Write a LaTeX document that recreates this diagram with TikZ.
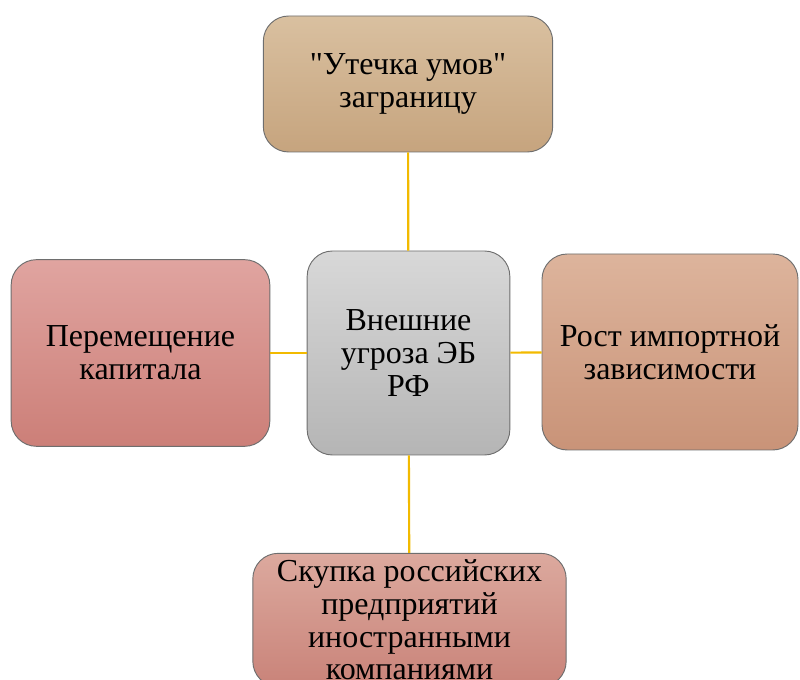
\documentclass[tikz,border=0pt]{standalone}
\usepackage{fontspec}
\setmainfont{Liberation Serif}

\definecolor{tanTop}{RGB}{217,192,160}
\definecolor{tanBot}{RGB}{198,164,126}
\definecolor{roseTop}{RGB}{224,164,160}
\definecolor{roseBot}{RGB}{204,127,120}
\definecolor{greyTop}{RGB}{216,216,216}
\definecolor{greyBot}{RGB}{181,181,181}
\definecolor{peachTop}{RGB}{221,180,156}
\definecolor{peachBot}{RGB}{201,147,120}
\definecolor{pinkTop}{RGB}{220,169,158}
\definecolor{pinkBot}{RGB}{201,131,121}
\definecolor{linkGold}{RGB}{242,186,0}
\definecolor{edgeGrey}{RGB}{110,110,110}

\tikzset{
  threat/.style={draw=edgeGrey, line width=0.7pt, rounded corners=19pt,
    align=center, inner sep=0pt, font=\fontsize{24}{24.5}\selectfont},
  link/.style={draw=linkGold, line width=1.6pt}
}

\begin{document}
\begin{tikzpicture}[x=0.75pt,y=0.75pt,yscale=-1,xscale=1]
\useasboundingbox (0,0) rectangle (800,680);
\clip (0,0) rectangle (800,680);

% Centre box
\node (core) at (408.5,353) [threat, top color=greyTop, bottom color=greyBot,
  minimum width=152pt, minimum height=153pt] {Внешние\\угроза ЭБ\\РФ};
% Top box
\node (brain) at (408,84) [threat, top color=tanTop, bottom color=tanBot,
  minimum width=217pt, minimum height=102pt] {\textquotedbl Утечка умов\textquotedbl\\заграницу};
% Left box
\node (capital) at (140.5,353) [threat, top color=roseTop, bottom color=roseBot,
  minimum width=194pt, minimum height=140pt] {Перемещение\\капитала};
% Right box
\node (imports) at (670,352) [threat, top color=peachTop, bottom color=peachBot,
  minimum width=192pt, minimum height=147pt] {Рост импортной\\зависимости};
% Bottom box
\node (buyout) at (409.5,620) [threat, top color=pinkTop, bottom color=pinkBot,
  minimum width=235pt, minimum height=100pt] {Скупка российских\\предприятий\\иностранными\\компаниями};

% Links
\draw [link] (brain) -- (core);
\draw [link] (capital) -- (core);
\draw [link] (core) -- (imports);
\draw [link] (core) -- (buyout);

\end{tikzpicture}
\end{document}
